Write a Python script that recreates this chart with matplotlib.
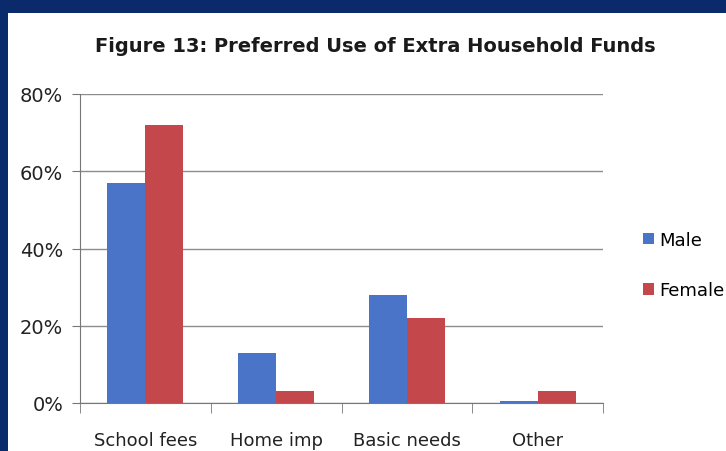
import numpy as np
import matplotlib.pyplot as plt
from matplotlib.patches import Rectangle
from matplotlib.ticker import FuncFormatter

# 数据
categories = ["School fees", "Home imp", "Basic needs", "Other"]
male = [57, 13, 28, 0.5]
female = [72, 3, 22, 3]
yticks = [0, 20, 40, 60, 80]

plt.rcParams['font.family'] = ['Liberation Sans Narrow', 'DejaVu Sans']

fig = plt.figure(figsize=(7.26, 4.52), dpi=100)
fig.patch.set_facecolor("#0b2a6b")
# 白色面板
fig.patches.append(Rectangle((8/726, 0), 1 - 8/726, 1 - 14/452, transform=fig.transFigure,
                             facecolor="white", edgecolor="none", zorder=-5))

ax = fig.add_axes([80/726, (452-404)/452, 523/726, (404-95)/452])
ax.set_facecolor("white")

X = np.arange(len(categories))
w = 0.29
ax.bar(X - w/2, male, w, color="#4a74c8", label="Male", zorder=3)
ax.bar(X + w/2, female, w, color="#c4484b", label="Female", zorder=3)

ax.set_xlim(-0.5, 3.5)
ax.set_ylim(0, 80)
ax.set_yticks(yticks)
ax.yaxis.set_major_formatter(FuncFormatter(lambda v, p: f"{int(v)}%"))
ax.grid(axis="y", color="#8c8c8c", linewidth=1, zorder=1)
ax.set_xticks(X)
ax.set_xticklabels(categories)
ax.set_xticks([-0.5, 0.5, 1.5, 2.5, 3.5], minor=True)
ax.tick_params(axis="x", which="major", length=0, pad=20, labelsize=13, labelcolor="#222222")
ax.tick_params(axis="x", which="minor", length=7, color="#777777")
ax.tick_params(axis="y", length=6, color="#777777", labelsize=14, labelcolor="#222222", pad=6)

for s in ["top", "right"]:
    ax.spines[s].set_visible(False)
ax.spines["left"].set_color("#777777")
ax.spines["bottom"].set_color("#777777")

fig.text(375/726, 1 - 46/452, "Figure 13: Preferred Use of Extra Household Funds",
         ha="center", va="center", fontsize=14, fontweight="bold", color="#1a1a1a")

leg = fig.legend(loc="center left", bbox_to_anchor=(636/726, 1 - 266/452), frameon=False,
                 fontsize=13, handlelength=0.6, handleheight=0.6, handletextpad=0.3,
                 labelspacing=1.8, borderaxespad=0)

fig.savefig("out.png", dpi=100, facecolor=fig.get_facecolor())
